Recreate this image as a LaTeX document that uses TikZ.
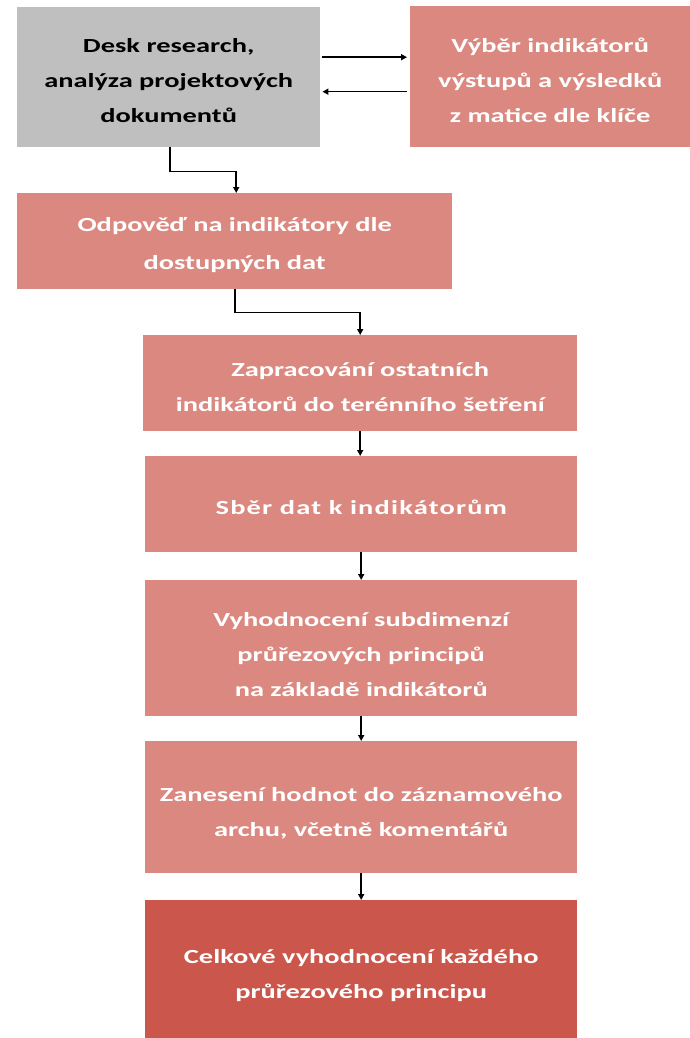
\documentclass[tikz,border=0pt]{standalone}
\usepackage{fontspec}
\setmainfont{Carlito}[FakeStretch=1.42]
\newfontfamily\spacedfont{Carlito}[FakeStretch=1.42,LetterSpace=6]
\usetikzlibrary{arrows.meta}
\definecolor{greybox}{HTML}{BFBFBF}
\definecolor{pinkbox}{HTML}{DB8980}
\definecolor{redbox}{HTML}{CB564B}
\newcommand{\topstrut}{\rule{0pt}{27pt}}
\newcommand{\lowstrut}{\rule{0pt}{21pt}}
\tikzset{
  box/.style={rectangle, draw=none, anchor=north west, inner sep=0pt, align=center,
    font=\fontsize{20}{35}\selectfont\bfseries},
  pbox/.style={box, fill=pinkbox, text=white},
  conn/.style={draw=black, line width=1.5pt, -{Triangle[length=6pt,width=6pt]}},
}
\begin{document}
\begin{tikzpicture}[x=1pt,y=-1pt]
\useasboundingbox (0,0) rectangle (690,1038);
\node[box, fill=greybox, text=black, minimum width=303pt, minimum height=140pt] (g) at (17,7)
  {\lowstrut Desk research,\\analýza projektových\\dokumentů};
\node[pbox, minimum width=280pt, minimum height=141pt] (v) at (410,6)
  {\lowstrut Výběr indikátorů\\výstupů a výsledků\\z matice dle klíče};
\node[pbox, minimum width=435pt, minimum height=96pt] (b2) at (17,193)
  {\lowstrut Odpověď na indikátory dle\\[3pt]dostupných dat};
\node[pbox, minimum width=434pt, minimum height=96pt] (b3) at (143,335)
  {\lowstrut Zapracování ostatních\\indikátorů do terénního šetření};
\node[pbox, minimum width=432pt, minimum height=96pt, font=\fontsize{20}{35}\spacedfont\bfseries] (b4) at (145,456)
  {\lowstrut Sběr dat k indikátorům};
\node[pbox, minimum width=432pt, minimum height=136pt] (b5) at (145,580)
  {\topstrut Vyhodnocení subdimenzí\\průřezových principů\\na základě indikátorů};
\node[pbox, minimum width=432pt, minimum height=132pt] (b6) at (145,741)
  {\topstrut Zanesení hodnot do záznamového\\archu, včetně komentářů};
\node[box, fill=redbox, text=white, minimum width=432pt, minimum height=138pt] (b7) at (145,900)
  {\topstrut Celkové vyhodnocení každého\\průřezového principu};
% connectors
\draw[conn, shorten <=2pt, shorten >=3pt] ([yshift=20pt]g.east) -- ([yshift=20pt]g.east -| v.west);
\draw[conn, shorten <=3pt, shorten >=2pt] ([yshift=-15pt]v.west) -- ([yshift=-15pt]v.west -| g.east);
\draw[conn] ([xshift=1.5pt]g.south) -- ++(0,24) -| ([xshift=1.5pt]b2.north);
\draw[conn] ([xshift=0.5pt]b2.south) -- ++(0,23) -| (b3.north);
\draw[conn] (b3.south) -- (b3.south |- b4.north);
\draw[conn] (b4.south) -- (b4.south |- b5.north);
\draw[conn] (b5.south) -- (b5.south |- b6.north);
\draw[conn] (b6.south) -- (b6.south |- b7.north);
\end{tikzpicture}
\end{document}
